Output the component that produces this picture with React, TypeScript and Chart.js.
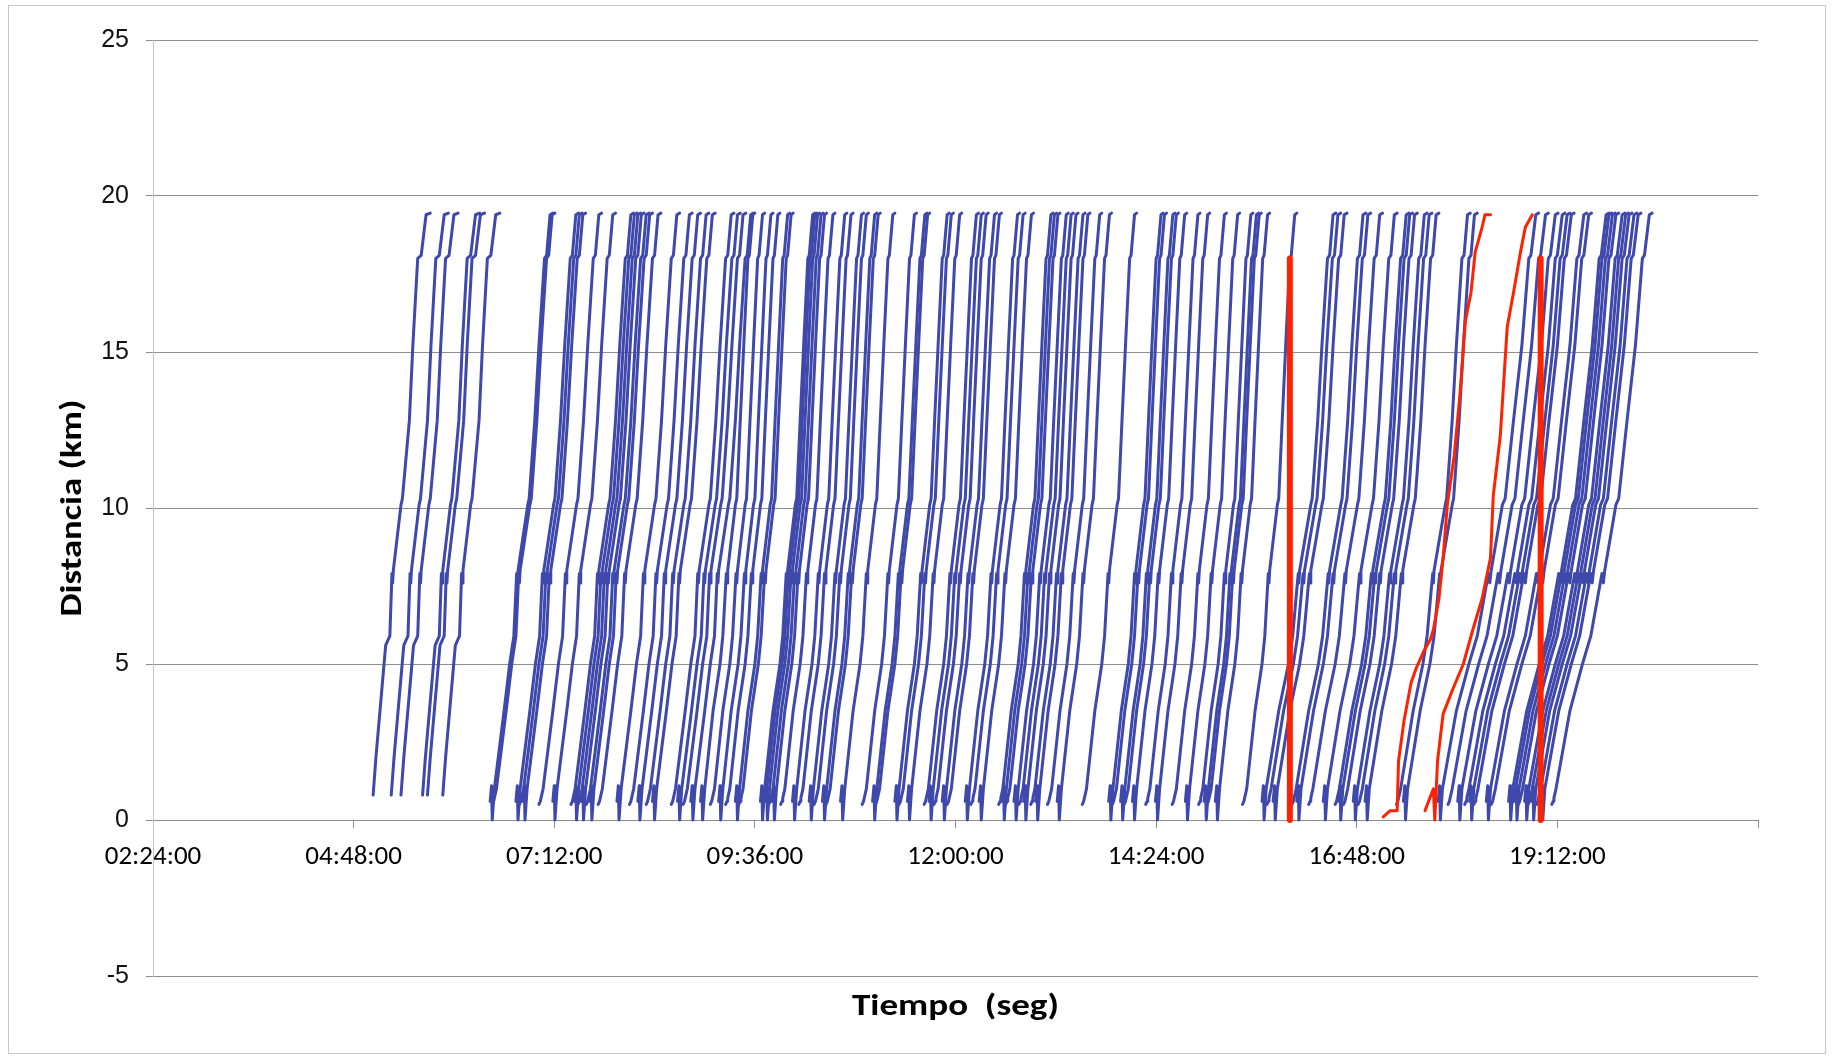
import React, { useEffect, useRef } from 'react';
import { Chart, registerables } from 'chart.js';

Chart.register(...registerables);

// ---- axes (x in minutes after midnight) ----
const X_MIN = 144;
const X_MAX = 1296;
const X_STEP = 144;
const Y_MIN = -5;
const Y_MAX = 25;
const Y_STEP = 5;

// ---- trip profiles: elapsed minutes -> km ----
const PROFILE_KM_EARLY = [0.8, 2.0, 5.6, 5.9, 7.9, 7.6, 8.0, 10.1, 10.3, 12.8, 15.2, 18.0, 18.1, 19.4, 19.45];
const PROFILE_T_EARLY = [0, 2, 9, 12, 13.5, 14, 14.5, 20, 21, 26, 28.5, 32, 34.5, 38, 41];

// trips that start with a short bounce at the terminal
const PROFILE_KM = [0.6, 1.1, 0, 1.0, 3.5, 5.0, 5.9, 7.9, 7.6, 8.0, 10.1, 10.3, 12.8, 15.2, 18.0, 18.1, 19.4, 19.45];
// trips that start with a short wait just after the terminal
const PROFILE_KM_FLAT = [0.5, 0.6, 0.7, 1.0, 3.5, 5.0, 5.9, 7.9, 7.6, 8.0, 10.1, 10.3, 12.8, 15.2, 18.0, 18.1, 19.4, 19.45];
const PROFILE_T_MORNING = [0, 1, 1.5, 3, 10, 14, 17, 19, 19.5, 20, 27, 28, 32, 35, 39, 40.5, 43, 45];
const PROFILE_T_MIDDAY = [0, 1, 1.5, 3, 9, 14, 16, 18.5, 19, 19.5, 25, 26, 28.5, 31, 34, 35, 37.5, 39];
const PROFILE_T_AFTERNOON = [0, 1, 1.5, 3, 12, 19, 22, 26, 26.5, 27, 35, 36, 40, 43, 47, 48.5, 51, 53];
const PROFILE_T_EVENING = [0, 1, 1.5, 3, 13, 22, 28, 36, 37, 38, 46, 48, 54, 60, 65, 66.5, 70, 72];

// ---- departures (minutes after midnight) ----
const DEP_EARLY = [302, 315, 322, 337.5, 341, 352];
const DEP_MORNING = [386, 387.5, 404.5, 407, 409.5, 421, 431, 444, 446.5, 449, 451.5, 455, 457.5, 463.5, 477, 486, 492, 498, 502.5, 516, 520.5, 524.5, 530];
const DEP_MIDDAY = [537, 544, 550, 555, 562, 564.5, 580, 581.5, 583.5, 586, 588.5, 594.5, 603, 607.5, 615, 618.5, 624.5, 627, 637.5, 653, 660.5, 662.5, 676.5, 679.5, 685.5, 697.5, 701, 704.5, 710.5, 714, 727, 731, 737, 751, 753.5, 756, 762, 765.5, 769, 774, 777.5, 786, 793, 811, 830, 832.5, 838.5, 841, 847, 856.5, 863.5, 875.5, 885, 894.5, 898.5, 900.5, 906.5, 926];
const DEP_AFTERNOON = [940, 943.5, 948, 961.5, 965, 973.5, 984, 992.5, 995, 998.5, 1005.5, 1009, 1014, 1036.5, 1041.5];
const DEP_EVENING = [1066.5, 1073.5, 1080.5, 1085.5, 1089, 1092, 1101, 1104.5, 1117, 1119, 1121.5, 1124, 1128.5, 1131, 1133.5, 1137, 1140, 1148];

// ---- highlighted (red) trips ----
const RED1_T = [1027, 1032, 1037, 1038, 1042, 1047, 1051, 1056, 1061, 1063, 1067, 1070, 1073, 1078, 1082, 1086, 1090, 1093, 1098, 1100, 1104];
const RED1_KM = [0.1, 0.3, 0.3, 1.9, 3.2, 4.4, 4.9, 5.4, 5.8, 6.1, 7.1, 8.4, 10.1, 11.7, 13.6, 16.0, 16.9, 18.2, 19.0, 19.4, 19.4];
const RED2_T = [1057, 1063, 1064, 1066, 1070, 1077, 1084.5, 1091, 1098, 1104, 1106, 1111, 1116, 1120.5, 1125.5, 1129, 1134];
const RED2_KM = [0.3, 1.0, 0, 1.9, 3.4, 4.2, 5.0, 6.05, 7.1, 8.4, 10.4, 12.3, 15.8, 16.9, 18.2, 19.0, 19.4];
const RED_BAR_T = [960, 1140];
const RED_BAR_KM = [0, 18];

const BLUE = '#3F48AB';
const RED = '#FF2200';

function fmtTime(v: number): string {
  const h = Math.floor(v / 60);
  const m = Math.round(v - h * 60);
  return String(h).padStart(2, '0') + ':' + String(m).padStart(2, '0') + ':00';
}

function trips(deps: number[], times: number[], kms: number[], kmsAlt?: number[]) {
  return deps.map((d, j) => {
    const k = kmsAlt && j % 2 === 1 ? kmsAlt : kms;
    return {
      data: times.map((t, i) => ({ x: d + t, y: k[i] })),
      borderColor: BLUE,
      borderWidth: 3,
      pointRadius: 0,
      tension: 0,
      fill: false,
      order: 2,
    };
  });
}

const frameAndTitles = {
  id: 'frameAndTitles',
  beforeDraw(chart: any) {
    const { ctx, width, height } = chart;
    ctx.save();
    ctx.fillStyle = '#ffffff';
    ctx.fillRect(0, 0, width, height);
    ctx.strokeStyle = '#c8c8c8';
    ctx.lineWidth = 1;
    ctx.strokeRect(8.5, 5.5, 1817, 1048);
    ctx.restore();
  },
  afterDraw(chart: any) {
    const { ctx, chartArea } = chart;
    ctx.save();
    ctx.fillStyle = '#000';
    ctx.textAlign = 'center';
    ctx.textBaseline = 'middle';
    ctx.font = "bold 30px Carlito, 'Liberation Sans Narrow', 'Open Sans', sans-serif";
    const xt = 'Tiempo  (seg)';
    const xw = ctx.measureText(xt).width;
    ctx.save();
    ctx.translate((chartArea.left + chartArea.right) / 2, 1007);
    ctx.scale(207 / xw, 1);
    ctx.fillText(xt, 0, 0);
    ctx.restore();
    const yt = 'Distancia (km)';
    const yw = ctx.measureText(yt).width;
    ctx.save();
    ctx.translate(73, (chartArea.top + chartArea.bottom) / 2);
    ctx.rotate(-Math.PI / 2);
    ctx.scale(217 / yw, 1);
    ctx.fillText(yt, 0, 0);
    ctx.restore();
    ctx.restore();
  },
};

export default function App() {
  const ref = useRef<HTMLCanvasElement | null>(null);
  useEffect(() => {
    if (!ref.current) return;
    const datasets: any[] = [
      {
        data: RED_BAR_KM.map((k) => ({ x: RED_BAR_T[0], y: k })),
        borderColor: RED, borderWidth: 6, pointRadius: 0, order: 0,
      },
      {
        data: RED_BAR_KM.map((k) => ({ x: RED_BAR_T[1], y: k })),
        borderColor: RED, borderWidth: 6, pointRadius: 0, order: 0,
      },
      {
        data: RED1_T.map((t, i) => ({ x: t, y: RED1_KM[i] })),
        borderColor: RED, borderWidth: 3, pointRadius: 0, order: 1,
      },
      {
        data: RED2_T.map((t, i) => ({ x: t, y: RED2_KM[i] })),
        borderColor: RED, borderWidth: 3, pointRadius: 0, order: 1,
      },
      ...trips(DEP_EARLY, PROFILE_T_EARLY, PROFILE_KM_EARLY),
      ...trips(DEP_MORNING, PROFILE_T_MORNING, PROFILE_KM, PROFILE_KM_FLAT),
      ...trips(DEP_MIDDAY, PROFILE_T_MIDDAY, PROFILE_KM, PROFILE_KM_FLAT),
      ...trips(DEP_AFTERNOON, PROFILE_T_AFTERNOON, PROFILE_KM, PROFILE_KM_FLAT),
      ...trips(DEP_EVENING, PROFILE_T_EVENING, PROFILE_KM, PROFILE_KM_FLAT),
    ];
    const chart = new Chart(ref.current, {
      type: 'line',
      data: { datasets },
      plugins: [frameAndTitles],
      options: {
        animation: false,
        responsive: false,
        devicePixelRatio: 1,
        parsing: false,
        normalized: true,
        layout: { padding: { left: 0, right: 83, top: 40, bottom: 82 } },
        plugins: { legend: { display: false }, tooltip: { enabled: false }, title: { display: false } },
        elements: { line: { borderJoinStyle: 'round', borderCapStyle: 'round' } },
        scales: {
          x: {
            type: 'linear',
            position: { y: 0 } as any,
            min: X_MIN,
            max: X_MAX,
            grid: { drawOnChartArea: false, drawTicks: true, tickLength: 7, color: '#8e8e8e' },
            border: { display: true, color: '#8e8e8e' },
            ticks: {
              stepSize: X_STEP,
              autoSkip: false,
              maxRotation: 0,
              padding: 14,
              color: '#000',
              font: { size: 27, family: "Carlito, 'Liberation Sans Narrow', 'DejaVu Sans Condensed', sans-serif" },
              callback: (v: any) => (Number(v) >= X_MAX ? '' : fmtTime(Number(v))),
            },
          },
          y: {
            type: 'linear',
            position: 'left',
            min: Y_MIN,
            max: Y_MAX,
            afterFit: (s: any) => { s.width = 153; },
            grid: { color: '#8e8e8e', tickLength: 7 },
            border: { display: true, color: '#c4c4c4' },
            ticks: {
              stepSize: Y_STEP,
              padding: 17,
              color: '#111',
              font: { size: 25, family: "'Liberation Sans', Arial, sans-serif" },
            },
          },
        },
      },
    });
    return () => chart.destroy();
  }, []);
  return (
    <div style={{ position: 'fixed', left: 0, top: 0, width: 1841, height: 1058, background: '#fff' }}>
      <canvas ref={ref} width={1841} height={1058} style={{ width: 1841, height: 1058, display: 'block' }} />
    </div>
  );
}
